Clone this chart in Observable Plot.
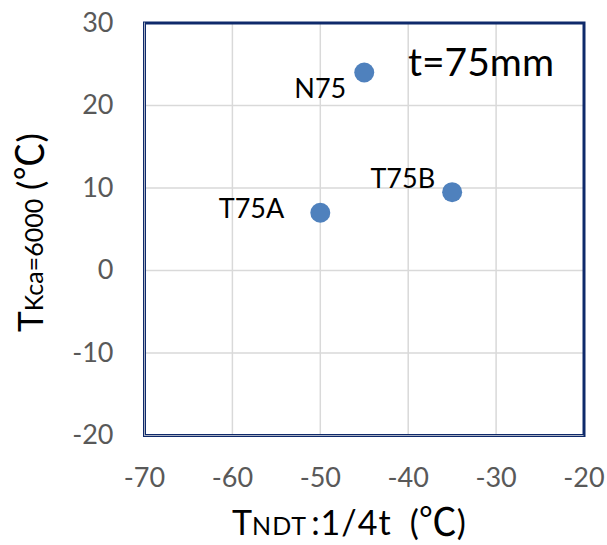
<!DOCTYPE html>
<html><head><meta charset="utf-8">
<script src="https://cdn.jsdelivr.net/npm/d3@7"></script>
<script src="https://cdn.jsdelivr.net/npm/@observablehq/plot@0.6"></script>
<style>body{margin:0;background:#fff}</style>
</head><body><div id="chart"></div>
<script>
const names = ["N75", "T75A", "T75B"];
const xValues = [-45, -50, -35];
const yValues = [24, 7, 9.5];
const xTicks = [-70, -60, -50, -40, -30, -20];
const yTicks = [-20, -10, 0, 10, 20, 30];
const annotation = "t=75mm";

const data = names.map((n, i) => ({name: n, x: xValues[i], y: yValues[i]}));
const labelOffsets = {N75: [-18, 17], T75A: [-36, -3], T75B: [-17, -12.5]};

const labelMarks = names.map(n => Plot.text(data.filter(d => d.name === n), {
  x: "x", y: "y", text: "name", textAnchor: "end", lineAnchor: "middle",
  dx: labelOffsets[n][0], dy: labelOffsets[n][1], fontSize: 27, fill: "#000"
}));

const svg = Plot.plot({
  width: 607, height: 545,
  marginLeft: 144, marginRight: 23.5, marginTop: 22.5, marginBottom: 110,
  style: {fontFamily: "Lato", background: "white"},
  x: {domain: [-70, -20], label: null},
  y: {domain: [-20, 30], label: null},
  marks: [
    Plot.gridX(xTicks.slice(1, -1), {stroke: "#d9d9d9", strokeOpacity: 1, strokeWidth: 1.5}),
    Plot.gridY(yTicks.slice(1, -1), {stroke: "#d9d9d9", strokeOpacity: 1, strokeWidth: 1.5}),
    Plot.frame({stroke: "#0f2a6b", strokeWidth: 3}),
    Plot.ruleX([xTicks[0]], {stroke: "#aab1c2", strokeWidth: 1}),
    Plot.ruleY([yTicks[0]], {stroke: "#aab1c2", strokeWidth: 1}),
    Plot.axisX(xTicks, {tickSize: 0, tickPadding: 32, fontSize: 27, color: "#595959", tickFormat: d => String(d), label: null}),
    Plot.axisY(yTicks, {tickSize: 0, tickPadding: 31, fontSize: 27, color: "#595959", tickFormat: d => String(d), label: null}),
    Plot.dot(data, {x: "x", y: "y", r: 10, fill: "#4f81bd", stroke: "none"}),
    ...labelMarks,
    Plot.text([annotation], {frameAnchor: "top-right", text: d => d, textAnchor: "end", lineAnchor: "top", dx: -30, dy: 25, fontSize: 39, fill: "#000"})
  ]
});

const s = d3.select(svg);
// X axis title
const xt = s.append("text").attr("x", 232).attr("y", 535).attr("fill", "#000")
  .attr("text-anchor", "start").attr("font-family", "Lato").attr("font-size", 34);
xt.append("tspan").text("T");
xt.append("tspan").attr("font-size", 25).attr("letter-spacing", 1).text("NDT");
xt.append("tspan").attr("dx", 4).attr("letter-spacing", 1).text(":1/4t");
xt.append("tspan").attr("dx", 18).text("(");
xt.append("tspan").attr("font-family", "Noto Sans CJK JP").attr("font-size", 38).text("℃");
xt.append("tspan").text(")");

// Y axis title
const yt = s.append("text").attr("transform", "translate(43,332) rotate(-90)").attr("fill", "#000")
  .attr("text-anchor", "start").attr("font-family", "Lato").attr("font-size", 35);
yt.append("tspan").text("T");
yt.append("tspan").attr("font-size", 25).text("Kca=6000");
yt.append("tspan").text(" (");
yt.append("tspan").attr("font-family", "Noto Sans CJK JP").attr("font-size", 38).text("℃");
yt.append("tspan").text(")");

document.getElementById("chart").appendChild(svg);
</script>
</body></html>
